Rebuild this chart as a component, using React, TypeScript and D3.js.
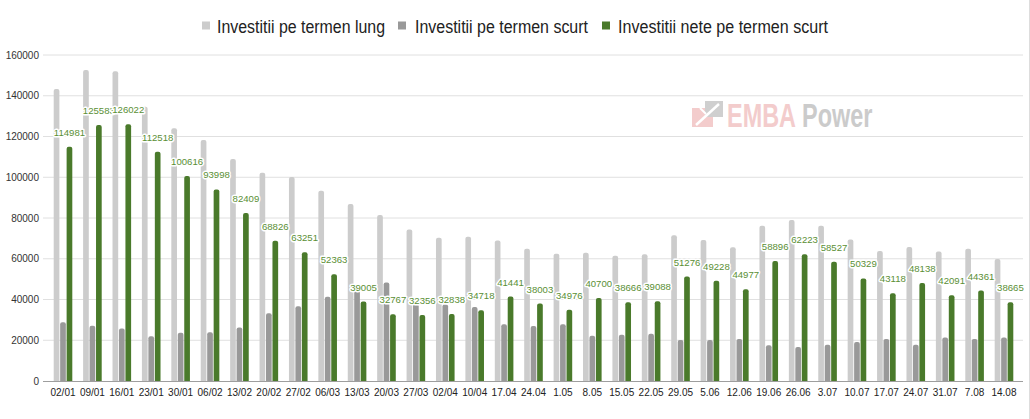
import React from "react";
import * as d3 from "d3";

const categories = [
  "02/01", "09/01", "16/01", "23/01", "30/01", "06/02", "13/02", "20/02", "27/02", "06/03",
  "13/03", "20/03", "27/03", "02/04", "10/04", "17.04", "24.04", "1.05", "8.05", "15.05",
  "22.05", "29.05", "5.06", "12.06", "19.06", "26.06", "3.07", "10.07", "17.07", "24.07",
  "31.07", "7.08", "14.08",
];

const longTerm = [
  143300, 152600, 152000, 134600, 124000, 118300, 109000, 102200, 100100, 93400,
  86900, 81500, 74300, 70300, 70800, 68900, 64900, 62500, 63000, 61500,
  62200, 71500, 69200, 65600, 76200, 79000, 76200, 69500, 63800, 65800,
  63600, 64900, 59900,
];

const shortTerm = [
  28800, 27100, 25800, 22000, 23700, 23900, 26300, 33200, 36700, 41400,
  44300, 48400, 37800, 37500, 36300, 27800, 27000, 27800, 22200, 22700,
  23200, 20100, 20100, 20600, 17500, 16700, 17800, 19100, 20600, 17800,
  21400, 20600, 21400,
];

const netShort = [
  114981, 125583, 126022, 112518, 100616, 93998, 82409, 68826, 63251, 52363,
  39005, 32767, 32356, 32838, 34718, 41441, 38003, 34976, 40700, 38666,
  39088, 51276, 49228, 44977, 58896, 62223, 58527, 50329, 43118, 48138,
  42091, 44361, 38665,
];

const seriesNames = [
  "Investitii pe termen lung",
  "Investitii pe termen scurt",
  "Investitii nete pe termen scurt",
];
const seriesColors = ["#cccccc", "#999999", "#4a7a2b"];
const yTicks = [0, 20000, 40000, 60000, 80000, 100000, 120000, 140000, 160000];

const W = 1030;
const H = 419;
const FONT = "'Liberation Sans', Arial, sans-serif";

function barPath(x: number, y: number, w: number, h: number, r: number) {
  const rr = Math.min(r, w / 2, h);
  return `M${x},${y + h}V${y + rr}Q${x},${y} ${x + rr},${y}H${x + w - rr}Q${x + w},${y} ${x + w},${y + rr}V${y + h}Z`;
}

export default function App() {
  const y = d3.scaleLinear().domain([0, 160000]).range([381, 55]);
  const x = d3.scaleBand<string>().domain(categories).range([48.3, 1018.7]).paddingInner(0).paddingOuter(0);
  const groupW = 18.6;
  const x1 = d3.scaleBand<number>().domain([0, 1, 2]).range([0, groupW]).paddingInner(0.12);
  const seriesData = [longTerm, shortTerm, netShort];
  const offset = (x.bandwidth() - groupW) / 2;

  const legendSquareX = [202, 398, 602];
  const legendTextX = [217, 415, 618];
  const legendTextW = [168, 173, 210];

  return (
    <svg
      width={W}
      height={H}
      style={{ position: "absolute", left: 0, top: 0, background: "#fff" }}
      fontFamily={FONT}
    >
      <rect x={0} y={0} width={W} height={H} fill="#ffffff" />
      {/* legend */}
      {seriesNames.map((n, i) => (
        <g key={n}>
          <rect x={legendSquareX[i]} y={21.5} width={8} height={8} fill={seriesColors[i]} />
          <text
            x={legendTextX[i]}
            y={32.5}
            fontSize={17.5}
            fill="#222"
            textLength={legendTextW[i]}
            lengthAdjust="spacingAndGlyphs"
          >
            {n}
          </text>
        </g>
      ))}
      {/* grid */}
      {yTicks.map((t) => (
        <g key={t}>
          {t > 0 && (
            <line x1={43} x2={1023} y1={y(t)} y2={y(t)} stroke="#e0e0e0" strokeWidth={1} />
          )}
          <text x={39} y={y(t) + 3.6} fontSize={10} textAnchor="end" fill="#333">
            {t}
          </text>
        </g>
      ))}
      {/* watermark */}
      <g>
        <polygon points="692,108 713,108 713,127 692,127" fill="#f3cccc" />
        <rect x={705} y={101} width={18} height={16} fill="#cfcfcf" />
        <line x1={696} y1={125} x2={719} y2={104} stroke="#ffffff" strokeWidth={2.5} />
        <line x1={700} y1={108} x2={706} y2={114} stroke="#ffffff" strokeWidth={2} />
        <g transform="translate(727,127) scale(0.69,1)">
          <text x={0} y={0} fontSize={34} fontWeight={700} fill="#f3cccc">
            EMBA
          </text>
        </g>
        <g transform="translate(802,127) scale(0.69,1)">
          <text x={0} y={0} fontSize={34} fontWeight={700} fill="#cbcbcb">
            Power
          </text>
        </g>
      </g>
      {/* bars */}
      {categories.map((c, ci) => (
        <g key={c}>
          {seriesData.map((s, si) => {
            const bx = (x(c) as number) + offset + (x1(si) as number);
            const by = y(s[ci]);
            return (
              <path
                key={si}
                d={barPath(bx, by, x1.bandwidth(), y(0) - by, 2)}
                fill={seriesColors[si]}
              />
            );
          })}
        </g>
      ))}
      {/* axis baseline */}
      <line x1={43} x2={1023} y1={y(0) + 0.5} y2={y(0) + 0.5} stroke="#9e9e9e" strokeWidth={1.2} />
      {/* x labels */}
      {categories.map((c) => (
        <text
          key={c}
          x={(x(c) as number) + x.bandwidth() / 2}
          y={395.5}
          fontSize={10}
          textAnchor="middle"
          fill="#222"
        >
          {c}
        </text>
      ))}
      {/* data labels */}
      {categories.map((c, ci) => {
        const cx = (x(c) as number) + offset + (x1(2) as number) + x1.bandwidth() / 2;
        return (
          <text
            key={c}
            x={cx}
            y={y(netShort[ci]) - 11}
            fontSize={9.6}
            textAnchor="middle"
            fill="#5a8f35"
            stroke="#ffffff"
            strokeWidth={3}
            strokeLinejoin="round"
            style={{ paintOrder: "stroke" }}
          >
            {netShort[ci]}
          </text>
        );
      })}
      {/* right border */}
      <line x1={1029.5} x2={1029.5} y1={0} y2={H} stroke="#dddddd" strokeWidth={1} />
    </svg>
  );
}
